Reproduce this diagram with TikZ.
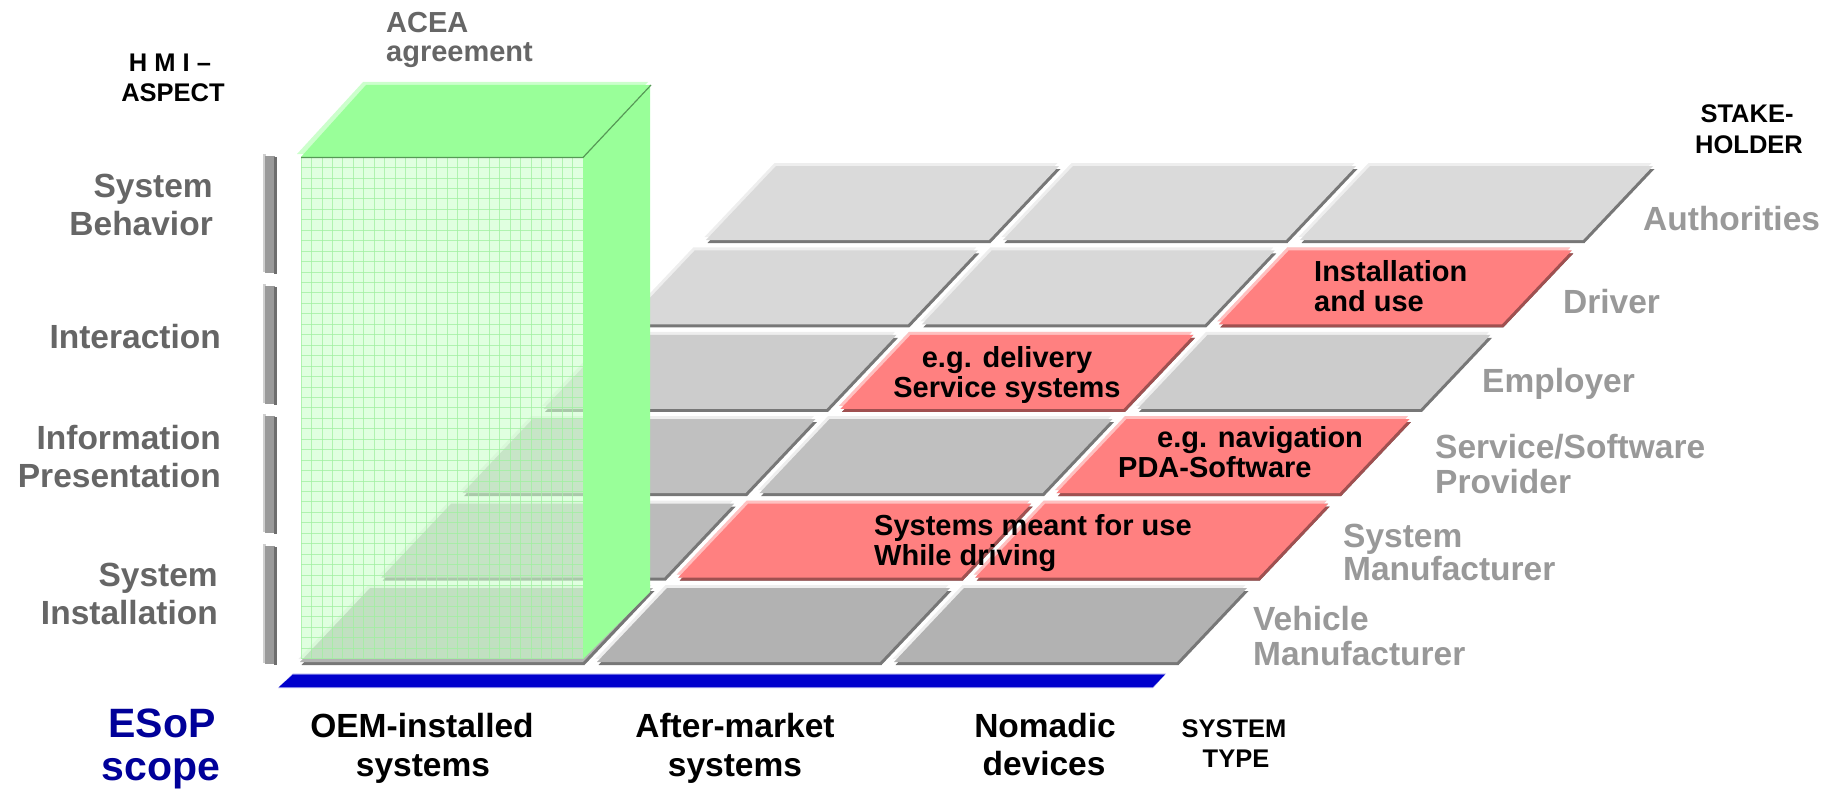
\documentclass[tikz,border=0pt]{standalone}
\usepackage{fontspec}
\setmainfont{Liberation Sans}

\definecolor{aspectgray}{HTML}{666666}
\definecolor{holdergray}{HTML}{999999}
\definecolor{tileLight}{HTML}{EEEEEE}
\definecolor{tileDark}{HTML}{777777}
\definecolor{redFill}{HTML}{FF8080}
\definecolor{redLight}{HTML}{FFC0C0}
\definecolor{redDark}{HTML}{A05050}
\definecolor{boxGreen}{HTML}{99FF99}
\definecolor{paleGreen}{HTML}{CCFFCC}
\definecolor{gridGreen}{HTML}{A0F0A0}
\definecolor{edgeGreen}{HTML}{559955}
\definecolor{scopeBlue}{HTML}{000099}
\definecolor{barBlue}{HTML}{0000CC}
\definecolor{barGray}{HTML}{9A9A9A}
\definecolor{barDark}{HTML}{6E6E6E}
\definecolor{barLight}{HTML}{CFCFCF}

% one raised parallelogram tile of the stakeholder / system-type floor
% #1 row (0 = front), #2 column, #3 face, #4 highlight, #5 shadow
\newcommand\tile[5]{%
  \pgfmathsetmacro\tileX{300+81.2*#1+297*#2}%
  \pgfmathsetmacro\tileY{662-84.4*#1}%
  \fill[#4] ({\tileX-1.5},{\tileY-3}) -- ++(283,0) -- ++(70,-74) -- ++(-283,0) -- cycle;
  \fill[#5] ({\tileX+1.5},{\tileY+3}) -- ++(283,0) -- ++(70,-74) -- ++(-283,0) -- cycle;
  \fill[#3] (\tileX,\tileY) -- ++(283,0) -- ++(70,-74) -- ++(-283,0) -- cycle;
}

% one vertical bracket bar of the HMI aspect axis
\newcommand\aspectbar[2]{%
  \fill[barLight] (262.5,#1) rectangle (266,{#2-1});
  \fill[barGray] (264.5,{#1+1.5}) rectangle (275,#2);
  \fill[barDark] (273.5,{#1+3}) rectangle (277,{#2+1});
}

\begin{document}
\begin{tikzpicture}[x=1pt,y=-1pt,
  aspect/.style={anchor=base east, inner sep=0, text=aspectgray,
    font=\fontsize{33.5}{38}\selectfont\bfseries},
  holder/.style={anchor=base west, inner sep=0, text=holdergray,
    font=\fontsize{33.5}{35}\selectfont\bfseries},
  celltext/.style={inner sep=0, text=black,
    font=\fontsize{29}{30}\selectfont\bfseries},
  systype/.style={anchor=base, inner sep=0, text=black,
    font=\fontsize{33.5}{39}\selectfont\bfseries},
  axistitle/.style={anchor=base, inner sep=0, text=black,
    font=\fontsize{25.5}{30}\selectfont\bfseries},
  scopetext/.style={anchor=base, inner sep=0, text=scopeBlue,
    font=\fontsize{41}{44}\selectfont\bfseries},
  acea/.style={anchor=base west, inner sep=0, text=aspectgray,
    font=\fontsize{29}{29}\selectfont\bfseries},
]
\useasboundingbox (0,0) rectangle (1840,792);

% ---- floor of tiles: rows = stakeholders, columns = system types
\foreach \r/\shade in {5/DADADA,4/D8D8D8,3/CCCCCC,2/C0C0C0,1/BBBBBB,0/B2B2B2}{
  \definecolor{rowFill}{HTML}{\shade}
  \foreach \c in {0,1,2}{
    \tile{\r}{\c}{rowFill}{tileLight}{tileDark}
  }
}
% highlighted stakeholder / system-type combinations
\tile{4}{2}{redFill}{redLight}{redDark}
\tile{3}{1}{redFill}{redLight}{redDark}
\tile{2}{2}{redFill}{redLight}{redDark}
\tile{1}{1}{redFill}{redLight}{redDark}
\tile{1}{2}{redFill}{redLight}{redDark}

% ---- ACEA agreement box over the OEM-installed column
% translucent gridded front face
\begin{scope}
  \clip (301,157) rectangle (583,659);
  \fill[paleGreen, opacity=0.6] (301,157) rectangle (583,659);
  \foreach \gx in {301,311.45,...,584}{
    \draw[gridGreen, line width=0.8, opacity=0.75] (\gx,157) -- (\gx,659);
  }
  \foreach \gy in {157,167.45,...,660}{
    \draw[gridGreen, line width=0.8, opacity=0.75] (301,\gy) -- (583,\gy);
  }
\end{scope}
% right side face
\fill[boxGreen] (583,157) -- (650,85) -- (650,592) -- (583,659) -- cycle;
% top face with highlight and edge shading
\fill[paleGreen] (297,154) -- (363,82) -- (648,82) -- (581,154) -- cycle;
\fill[boxGreen] (301,157) -- (366,85) -- (650,85) -- (583,157) -- cycle;
\draw[edgeGreen, line width=1.2] (301,157.5) -- (583,157.5) -- (651,85);

% ---- ESoP scope bar
\fill[barBlue!40] (293,673.5) -- (1166,673.5) -- (1153,688) -- (278,688) -- cycle;
\fill[barBlue] (293,674.5) -- (1165,674.5) -- (1153,687) -- (279,687) -- cycle;

% ---- HMI aspect axis bars
\aspectbar{154}{273}
\aspectbar{284}{404}
\aspectbar{414}{533}
\aspectbar{544}{664}

% ---- axis titles
\node[axistitle] (hmi1) at (170,71) {H M I –};
\node[axistitle] (hmi2) at (173,101) {ASPECT};
\node[axistitle] (stake1) at (1747,122) {STAKE-};
\node[axistitle] (stake2) at (1749,153) {HOLDER};
\node[axistitle] (type1) at (1234,737) {SYSTEM};
\node[axistitle] (type2) at (1236,767) {TYPE};
\node[acea] (acea1) at (386,33) {ACEA};
\node[acea] (acea2) at (386,62) {agreement};

% ---- HMI aspects
\node[aspect] (beh1) at (213,197) {System};
\node[aspect] (beh2) at (213,235) {Behavior};
\node[aspect] (inter) at (221,348) {Interaction};
\node[aspect] (info1) at (221,449) {Information};
\node[aspect] (info2) at (221,487) {Presentation};
\node[aspect] (inst1) at (218,586) {System};
\node[aspect] (inst2) at (218,624) {Installation};

% ---- stakeholders
\node[holder] (auth) at (1643,230) {Authorities};
\node[holder] (driver) at (1563,313) {Driver};
\node[holder] (employer) at (1482,392) {Employer};
\node[holder] (ssp1) at (1435,458) {Service/Software};
\node[holder] (ssp2) at (1435,493) {Provider};
\node[holder] (sm1) at (1343,547) {System};
\node[holder] (sm2) at (1343,580) {Manufacturer};
\node[holder] (vm1) at (1253,630) {Vehicle};
\node[holder] (vm2) at (1253,665) {Manufacturer};

% ---- system types
\node[scopetext] (esop1) at (162,737) {ESoP};
\node[scopetext] (esop2) at (161,780) {scope};
\node[systype] (oem1) at (422,737) {OEM-installed};
\node[systype] (oem2) at (423,776) {systems};
\node[systype] (after1) at (735,737) {After-market};
\node[systype] (after2) at (735,776) {systems};
\node[systype] (nomad1) at (1045,737) {Nomadic};
\node[systype] (nomad2) at (1044,775) {devices};

% ---- texts on highlighted tiles
\node[celltext, anchor=base west] (inst3) at (1314,281) {Installation};
\node[celltext, anchor=base west] (inst4) at (1314,311) {and use};
\node[celltext, anchor=base] (deliv1) at (1007,367) {e.g. delivery};
\node[celltext, anchor=base] (deliv2) at (1007,397) {Service systems};
\node[celltext, anchor=base west] (navi1) at (1157,447) {e.g. navigation};
\node[celltext, anchor=base west] (navi2) at (1118,477) {PDA-Software};
\node[celltext, anchor=base west] (drive1) at (874,535) {Systems meant for use};
\node[celltext, anchor=base west] (drive2) at (874,565) {While driving};
\end{tikzpicture}
\end{document}
